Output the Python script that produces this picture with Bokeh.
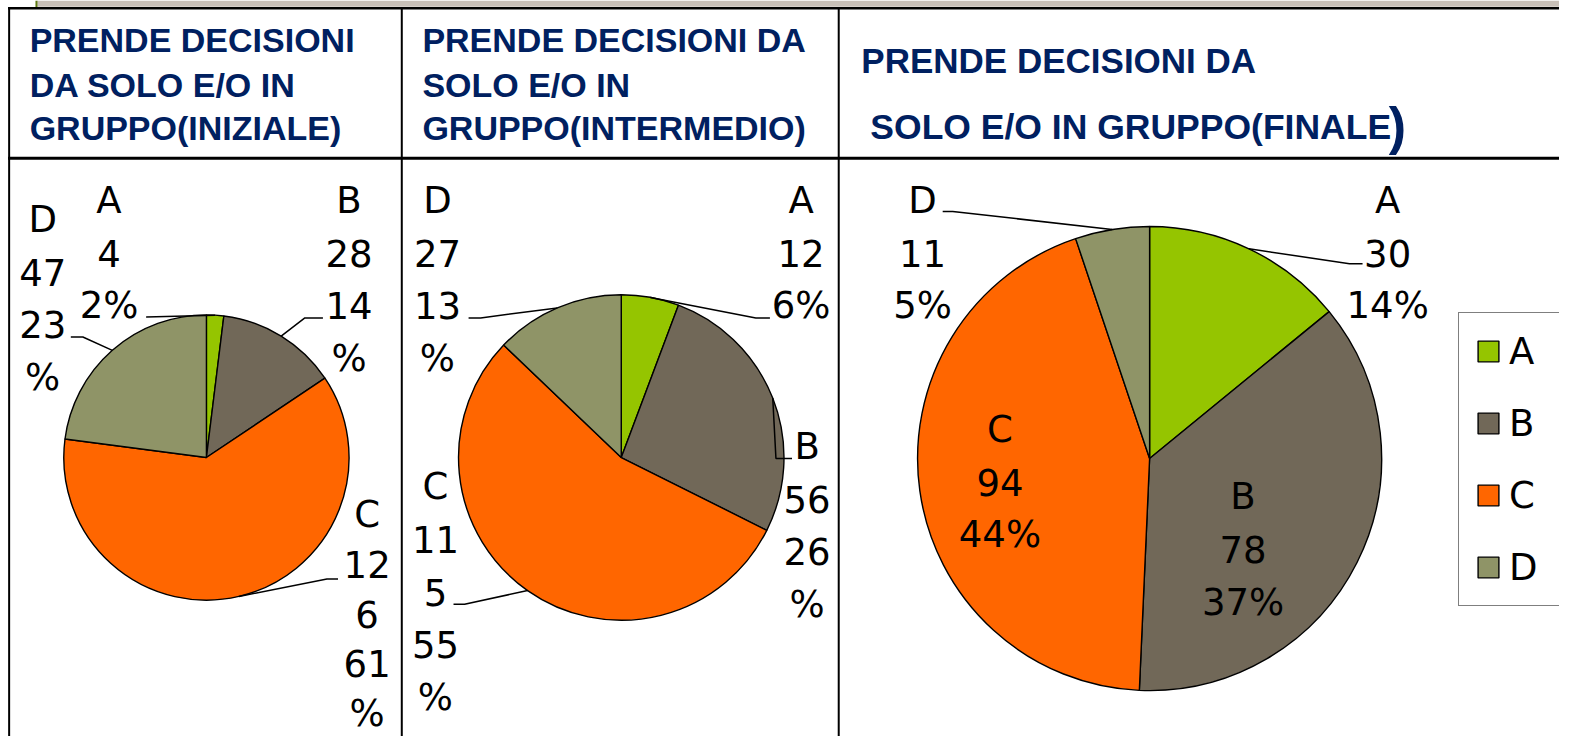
import math
from bokeh.plotting import figure
from bokeh.models import Range1d, ColumnDataSource, Legend, LegendItem
from bokeh.embed import file_html
from bokeh.resources import INLINE
from bokeh.core.properties import value

# ---------------- data ----------------
categories = ["A", "B", "C", "D"]
colors = ["#95C500", "#716858", "#FF6600", "#8F9467"]

values_iniziale = [4, 28, 126, 47]
pct_iniziale = ["2%", "14%", "61%", "23%"]

values_intermedio = [12, 56, 115, 27]
pct_intermedio = ["6%", "26%", "55%", "13%"]

values_finale = [30, 78, 94, 11]
pct_finale = ["14%", "37%", "44%", "5%"]

title_iniziale = ["PRENDE DECISIONI", "DA SOLO E/O IN", "GRUPPO(INIZIALE)"]
title_intermedio = ["PRENDE DECISIONI DA", "SOLO E/O IN", "GRUPPO(INTERMEDIO)"]
title_finale = ["PRENDE DECISIONI DA", " SOLO E/O IN GRUPPO(FINALE", ")"]

# ---------------- layout (reference pixels, y downwards) ----------------
S = 1575 / 1568
W, H = 1559, 736
NAVY = "#002060"
LABEL_FONT_NAME = "DejaVu Sans"
LABEL_FONT = value(LABEL_FONT_NAME)
LABEL_SIZE = "37px"
LINE_STEP = 52.5
DY = 13  # correction between wanted baseline and drawn position

p = figure(width=W, height=H,
           x_range=Range1d(0, W / S), y_range=Range1d(-H / S, 0),
           x_axis_type=None, y_axis_type=None, toolbar_location=None,
           output_backend="svg", min_border=0, outline_line_color=None,
           background_fill_color="white", border_fill_color="white")

# top strip of the slide
p.quad(left=36.5, right=1575, top=0, bottom=-6.2, fill_color="#C8C0B8", line_color=None)
p.line([35.8, 35.8], [0, -7], line_color="#5E7A12", line_width=2)

# table lines
def hline(x0, x1, y, w=2):
    p.line([x0, x1], [-y, -y], line_color="black", line_width=w)

def vline(x, y0, y1, w=2):
    p.line([x, x], [-y0, -y1], line_color="black", line_width=w)

hline(7.5, 1575, 7.6, 2.5)
hline(7.5, 1575, 157, 3)
vline(8.6, 7, 752, 2)
vline(399.5, 7, 752, 2)
vline(834.5, 7, 752, 2)

# titles
def title_line(t, x, b, size):
    p.text(x=[x], y=[-(b - DY)], text=[t], text_font=value("Liberation Sans"), text_font_size=size,
           text_font_style="bold", text_color=NAVY, text_align="left",
           text_baseline="alphabetic")

for t, b in zip(title_iniziale, [52, 97, 140]):
    title_line(t, 29, b, "34px")
for t, b in zip(title_intermedio, [52, 97, 140]):
    title_line(t, 420, b, "34px")
title_line(title_finale[0], 857, 73, "35px")
title_line(title_finale[1], 866, 139, "35.5px")
title_line(title_finale[2], 1382, 138, "52px")


def label_lines(cat, val, pct, mode):
    s = str(val)
    if mode == 0:
        return [cat, s, pct]
    if mode == 1:
        return [cat, s, pct[:-1], "%"]
    return [cat, s[:2], s[2:], pct[:-1], "%"]


def pie(vals, pcts, cx, cy, r, labels):
    total = float(sum(vals))
    starts, ends, mids = [], [], []
    cum = 0.0
    for v in vals:
        a0 = cum / total
        cum += v
        a1 = cum / total
        starts.append(math.pi / 2 - 2 * math.pi * a0)
        ends.append(math.pi / 2 - 2 * math.pi * a1)
        mids.append(2 * math.pi * (a0 + a1) / 2)
    src = ColumnDataSource(dict(cat=categories, val=vals, start=starts, end=ends, color=colors))
    rend = p.wedge(x=cx, y=-cy, radius=r, start_angle="start", end_angle="end",
                   direction="clock", fill_color="color", line_color="black",
                   line_width=1.4, source=src)
    for (idx, lx, ly0, mode, leader, step) in labels:
        lines = label_lines(categories[idx], vals[idx], pcts[idx], mode)
        ys = [-(ly0 + k * step - DY) for k in range(len(lines))]
        p.text(x=[lx] * len(lines), y=ys, text=lines, text_font=LABEL_FONT,
               text_font_size=LABEL_SIZE, text_color="black", text_align="center",
               text_baseline="alphabetic")
        if leader:
            th = mids[idx]
            ex, ey = cx + r * math.sin(th), cy - r * math.cos(th)
            xs = [pt[0] for pt in leader] + [ex]
            ys2 = [-pt[1] for pt in leader] + [-ey]
            p.line(xs, ys2, line_color="black", line_width=1.5)
    return rend


pie(values_iniziale, pct_iniziale, 205, 455, 142, [
    (0, 108, 212, 0, [(145, 315)], LINE_STEP),
    (1, 347, 212, 1, [(321, 316), (303, 316)], LINE_STEP),
    (2, 365, 525, 2, [(336, 576), (325, 576)], 49.5),
    (3, 42, 231, 1, [(70, 335), (82, 335)], LINE_STEP),
])

pie(values_intermedio, pct_intermedio, 618, 455, 162, [
    (3, 435, 212, 1, [(466, 316), (478, 316)], LINE_STEP),
    (0, 797, 212, 0, [(766, 316), (752, 316)], LINE_STEP),
    (1, 803, 457, 1, [(788, 456), (772, 456)], LINE_STEP),
    (2, 433, 497, 2, [(451, 601), (462, 601)], LINE_STEP),
])

r3 = pie(values_finale, pct_finale, 1144, 456, 231, [
    (3, 918, 212, 0, [(938, 210), (948, 210)], LINE_STEP),
    (0, 1381, 212, 0, [(1356, 262), (1343, 262)], LINE_STEP),
    (1, 1237, 507, 0, None, LINE_STEP),
    (2, 995, 440, 0, None, LINE_STEP),
])

legend = Legend(items=[LegendItem(label=c, renderers=[r3], index=i) for i, c in enumerate(categories)],
                location=(1458, 130), orientation="vertical",
                border_line_color="black", border_line_width=1,
                background_fill_color="white", background_fill_alpha=1,
                padding=16, spacing=28, glyph_width=26, glyph_height=26,
                label_height=44, label_width=34, label_standoff=8,
                label_text_font=LABEL_FONT_NAME, label_text_font_size=LABEL_SIZE,
                label_text_color="black",
                label_text_baseline="middle", margin=0)
p.add_layout(legend)

open("out.html", "w").write(file_html(p, INLINE))
